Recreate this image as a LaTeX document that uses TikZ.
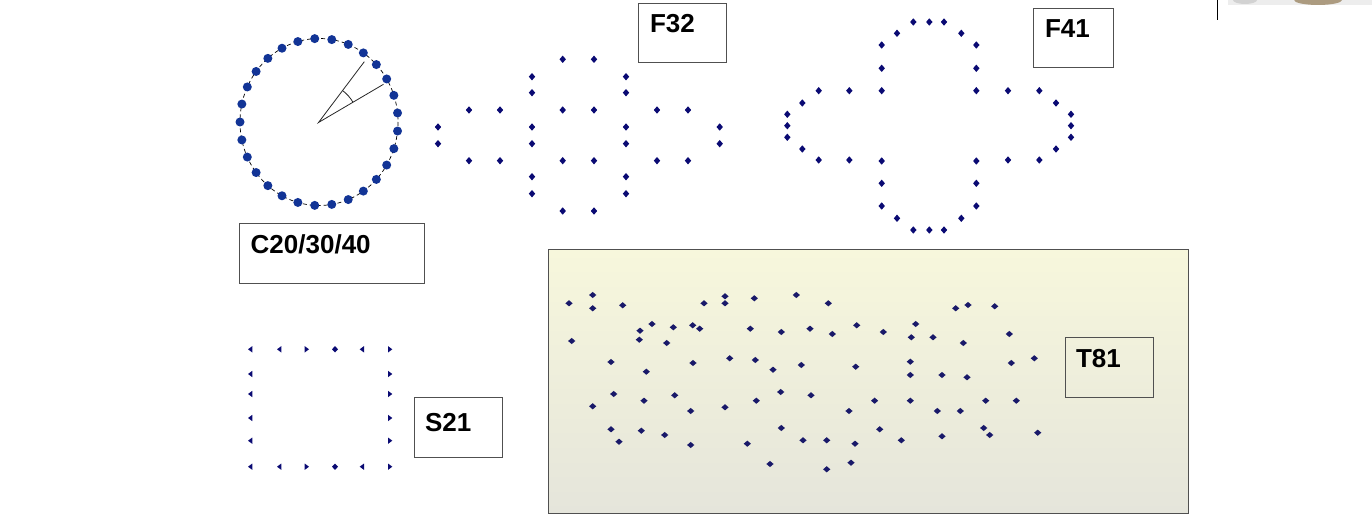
\documentclass[tikz,border=0pt]{standalone}
\usepackage{fontspec}
\setmainfont{Liberation Sans}
\usetikzlibrary{calc}
\definecolor{cdot}{RGB}{18,52,150}
\definecolor{ndot}{RGB}{10,10,115}
\definecolor{tdot}{RGB}{25,25,105}
\definecolor{boxline}{RGB}{80,80,80}
\definecolor{ttop}{RGB}{247,247,220}
\definecolor{tbot}{RGB}{229,229,219}
\definecolor{photo}{RGB}{172,155,128}
\begin{document}
\begin{tikzpicture}[x=1pt,y=-1pt,
  lbox/.style={draw=boxline, line width=1pt, inner sep=0pt, anchor=north west},
  lbl/.style={font=\bfseries\fontsize{26}{30}\selectfont, inner sep=0pt, anchor=north west},
  dia/.style={fill=ndot},
  tdia/.style={fill=tdot}]
\useasboundingbox (0,0) rectangle (1372,518);

% ---------- circle C20/30/40 ----------
\coordinate (cc) at (318.5,122.5);
\draw[line width=0.7pt, dash pattern=on 4pt off 3pt] (319,122) ellipse [x radius=79, y radius=83.5];
\foreach \k in {0,...,28} {
  \fill[cdot] ($(319,122)+({79*cos(180+\k*360/29)},{83.5*sin(180+\k*360/29)})$) circle (4.5);
}
\coordinate (l1) at (364.3,61.7);
\coordinate (l2) at (383.5,84.3);
\draw[line width=0.8pt, black!85] (l1) -- (cc) -- (l2);
\coordinate (a1) at ($(cc)+(24.1,-31.9)$);
\draw[line width=0.8pt, black!85] (a1) arc[start angle=-53, end angle=-30.4, radius=40];

% ---------- label boxes ----------
\node[lbox, minimum width=185, minimum height=59.4] (bc) at (239.3,223.3) {};
\node[lbl] at ($(bc.north west)+(11.2,11.5)$) {C20/30/40};
\node[lbox, minimum width=87.7, minimum height=59.3] (bf32) at (638.3,2.7) {};
\node[lbl] at ($(bf32.north west)+(11.5,11.8)$) {F32};
\node[lbox, minimum width=79.4, minimum height=58.7] (bf41) at (1033.3,8) {};
\node[lbl] at ($(bf41.north west)+(11.5,11.8)$) {F41};
\node[lbox, minimum width=88, minimum height=60] (bs21) at (414.3,397.3) {};
\node[lbl] at ($(bs21.north west)+(10.5,15.8)$) {S21};

% ---------- T81 area ----------
\node[draw=boxline, line width=1.2pt, top color=ttop, bottom color=tbot, inner sep=0pt,
  anchor=north west, minimum width=640, minimum height=263.4] (tarea) at (547.7,249.3) {};
\node[lbox, minimum width=88.3, minimum height=60] (bt81) at (1065,337.3) {};
\node[lbl] at ($(bt81.north west)+(10.8,11.5)$) {T81};

% ---------- F32 dots ----------
\foreach \x/\y in {562.7/59.3,594/59.3,532/76.7,626/76.7,532/92.7,626/92.7,
  469/110,500/110,562.7/110,594/110,657/110,688/110,
  438/127,532/127,626/127,719.7/127,438/143.7,532/143.7,626/143.7,719.7/143.7,
  469/160.7,500/160.7,562.7/160.7,594/160.7,657/160.7,688/160.7,
  532/176.7,626/176.7,532/193.7,626/193.7,562.7/211,594/211}
  \fill[dia] (\x,\y) +(-3.2,0) -- +(0,-3.7) -- +(3.2,0) -- +(0,3.7) -- cycle;

% ---------- F41 dots ----------
\foreach \x/\y in {913.3/22,929.3/22,944/22,897/33.3,961.3/33.3,881.7/45,976.3/45,
  881.7/68.3,976.3/68.3,818.7/90.7,849.3/90.7,881.7/90.7,976.3/90.7,1008/90.7,1039.3/90.7,
  802.3/103,1056/103,787.3/114.3,1071/114.3,787.3/125.7,1071/125.7,787.3/137.3,1071/137.3,
  802.3/149,1056/149,818.7/160,849.3/160,1008/160,1039.3/160,881.7/161,976.3/161,
  881.7/183.3,976.3/183.3,881.7/206,976.3/206,897/218.3,961.3/218.3,
  913.3/230,929.3/230,944/230}
  \fill[dia] (\x,\y) +(-3.2,0) -- +(0,-3.7) -- +(3.2,0) -- +(0,3.7) -- cycle;

% ---------- S21 marks ----------
\foreach \x/\y in {251/349.3,280/349.3,362.7/349.3,251/374,251/394,251/418,251/440.7,
  251/466.7,280/466.7,362.7/466.7}
  \fill[ndot] (\x,\y) +(-3,0) -- +(1.3,-3.2) -- +(1.3,3.2) -- cycle;
\foreach \x/\y in {306/349.3,389.3/349.3,389.3/374,389.3/394,389.3/418,389.3/440.7,
  306/466.7,389.3/466.7}
  \fill[ndot] (\x,\y) +(3,0) -- +(-1.3,-3.2) -- +(-1.3,3.2) -- cycle;
\foreach \x/\y in {335/349.3,335/466.7}
  \fill[ndot] (\x,\y) +(-3,0) -- +(0,-3.2) -- +(3,0) -- +(0,3.2) -- cycle;

% ---------- T81 dots ----------
\foreach \x/\y in {569/303.3,592.7/295,592.7/308.3,622.7/305.3,571.7/341,704/303.3,725/296.3,
  725/303.3,754.3/298.3,796.3/295,828.3/303.3,652/324,640/330.7,639.3/339.7,673.3/327.3,
  692.7/325.3,699.7/328.7,666.7/343,750.3/328.7,781.3/332,810/328.7,832.3/334,856.7/325.3,
  611/362,646.3/371.7,693/363,729.7/358.3,755.3/360,773/369.7,801.3/365,855.7/366.7,
  613.7/394,592.7/406.3,644/400.7,674.7/395.3,690.7/411,725/407.3,756.3/400.7,780.7/392,
  811/395.3,849/411,874.6/400.7,611/429.3,619/441.7,641.3/430.7,664.7/435,690.7/445,
  747.3/443.7,781.3/428,803/440.3,826.7/440.3,855/443.7,770/464,826.7/469.3,851/462.7,
  955.7/308.3,968/305,994.7/306.3,915.7/324,883.3/332,911.3/337.3,933/337.3,963.3/343,
  1009.3/334,910.3/361.7,1011.3/363,1034.3/358.3,910.3/375,942/375,967/377.3,910.3/400.7,
  985.7/400.7,1016.3/400.7,937.3/411,960.3/411,879.7/429.3,901.3/440.3,942/436.3,
  983.7/428,989.7/435,1037.7/432.7}
  \fill[tdia] (\x,\y) +(-3.6,0) -- +(0,-3.1) -- +(3.6,0) -- +(0,3.1) -- cycle;

% ---------- top-right fragment ----------
\draw[line width=1pt] (1217,0) -- (1217,20);
\begin{scope}
  \clip (1228,0) rectangle (1372,5.5);
  \fill[gray!14] (1228,0) rectangle (1372,5.5);
  \fill[photo] (1318,0) ellipse [x radius=24, y radius=5];
  \fill[gray!35] (1245,0) ellipse [x radius=12, y radius=4];
\end{scope}
\end{tikzpicture}
\end{document}
